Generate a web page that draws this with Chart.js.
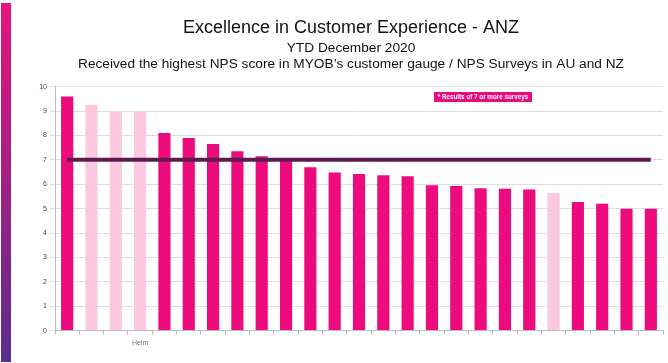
<!DOCTYPE html>
<html>
<head>
<meta charset="utf-8">
<script src="https://cdn.jsdelivr.net/npm/chart.js@4"></script>
<style>
  html, body { margin: 0; padding: 0; background: #fff; }
  #chart1 { display: block; }
</style>
</head>
<body>
<canvas id="chart1" width="668" height="363"></canvas>
<script>
// x labels: only one category carries a visible name
const labels = ['', '', '', 'Helm', '', '', '', '', '', '', '', '', '', '', '', '', '', '', '', '', '', '', '', '', ''];
const npsScores = [9.6, 9.25, 9.0, 9.0, 8.1, 7.9, 7.65, 7.35, 7.15, 7.0, 6.7, 6.48, 6.42, 6.37, 6.33, 5.96, 5.93, 5.84, 5.82, 5.78, 5.64, 5.27, 5.2, 5.0, 5.0];
// true = results of 7 or more surveys
const sevenOrMore = [true, false, false, false, true, true, true, true, true, true, true, true, true, true, true, true, true, true, true, true, false, true, true, true, true];
const targetLine = [7, 7, 7, 7, 7, 7, 7, 7, 7, 7, 7, 7, 7, 7, 7, 7, 7, 7, 7, 7, 7, 7, 7, 7, 7];
const yTicks = [0, 1, 2, 3, 4, 5, 6, 7, 8, 9, 10];

const PINK = '#ec0a7c';
const LIGHT_PINK = '#fac8df';

renderChart();

function renderChart() {
  const ctx1 = document.getElementById('chart1');

  const decorations = {
    id: 'decorations',
    beforeDraw(chart) {
      const c = chart.ctx;
      c.save();
      c.fillStyle = '#fff';
      c.fillRect(0, 0, chart.width, chart.height);
      const g = c.createLinearGradient(0, 3, 0, 362);
      g.addColorStop(0, '#e6147e');
      g.addColorStop(1, '#5a2d8c');
      c.fillStyle = g;
      c.fillRect(1, 3, 10, 359);
      c.restore();
    },
    afterDraw(chart) {
      const c = chart.ctx;
      c.save();
      c.fillStyle = PINK;
      c.fillRect(434, 92, 98, 10);
      c.fillStyle = '#fff';
      c.font = 'bold 6.3px "Liberation Sans"';
      c.textBaseline = 'middle';
      c.textAlign = 'center';
      c.fillText('* Results of 7 or more surveys', 483, 97.3);
      c.restore();
    }
  };

  new Chart(ctx1, {
    data: {
      labels: labels,
      datasets: [{
        type: 'line',
        data: targetLine,
        borderColor: '#5c1a50',
        borderWidth: 4,
        pointRadius: 0,
        order: 0
      }, {
        type: 'bar',
        data: npsScores,
        backgroundColor: sevenOrMore.map(v => v ? PINK : LIGHT_PINK),
        barPercentage: 0.5,
        categoryPercentage: 1,
        order: 1
      }]
    },
    options: {
      responsive: false,
      animation: false,
      layout: { padding: { left: 39, right: 5, top: 10, bottom: 12 } },
      plugins: {
        legend: { display: false },
        tooltip: { enabled: false },
        title: {
          display: true,
          text: 'Excellence in Customer Experience - ANZ',
          color: '#111',
          font: { family: '"Liberation Sans", Arial', size: 18, weight: 'normal', lineHeight: 1.2 },
          padding: { top: 7, bottom: 0 }
        },
        subtitle: {
          display: true,
          text: ['YTD December 2020', 'Received the highest NPS score in MYOB\u2019s customer gauge / NPS Surveys in AU and NZ'],
          color: '#111',
          font: { family: '"Liberation Sans", Arial', size: 13.7, lineHeight: 1.17 },
          padding: { top: 2, bottom: 14 }
        }
      },
      scales: {
        x: {
          grid: { display: true, drawOnChartArea: false, tickLength: 4, color: '#bbb', offset: true },
          border: { color: '#bbb' },
          ticks: {
            autoSkip: false,
            maxRotation: 0,
            color: '#777',
            font: { family: '"Liberation Sans", Arial', size: 7 },
            padding: 4
          }
        },
        y: {
          min: 0,
          max: 10,
          afterBuildTicks: scale => { scale.ticks = yTicks.map(v => ({ value: v })); },
          afterFit: scale => { scale.width = 16; },
          grid: { color: '#dedede', tickLength: 5 },
          border: { color: '#bbb' },
          ticks: {
            color: '#444',
            font: { family: '"Liberation Sans", Arial', size: 7 },
            padding: 3
          }
        }
      }
    },
    plugins: [decorations]
  });
}
</script>
</body>
</html>
